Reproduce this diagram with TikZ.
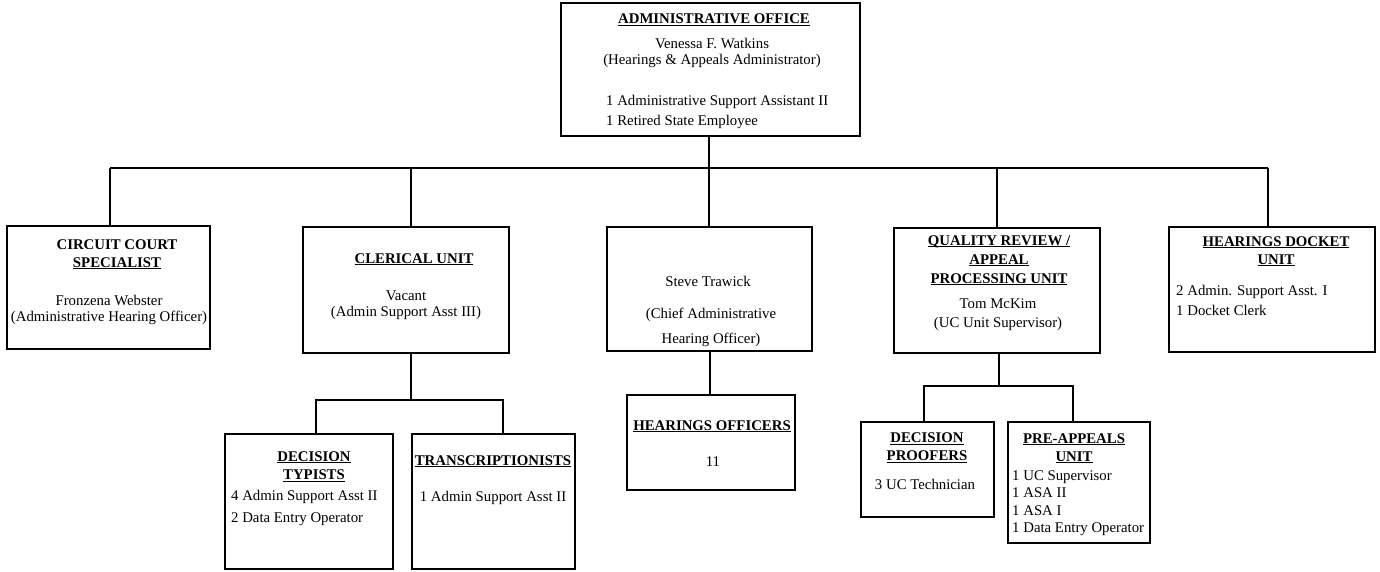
\documentclass[tikz,border=0pt]{standalone}
\usepackage{fontspec}
\setmainfont{Liberation Serif}
\newsavebox\ttlbox
% bold heading with a word-processor style underline
\newcommand\ttl[1]{\sbox\ttlbox{\bfseries #1}\rlap{\rule[-2.4pt]{\wd\ttlbox}{1.1pt}}\usebox\ttlbox}
% a column of text lines: name prefix, anchor, x, first baseline, line skip, lines
\newcommand\txtlines[6]{\foreach \tl [count=\ti from 1] in {#6}{%
  \node[txt,anchor=#2] (#1\ti) at ({#3},{#4+(\ti-1)*#5}) {\tl};}}
\begin{document}
\begin{tikzpicture}[x=1pt,y=-1pt,
  unitbox/.style={draw=black,line width=1.6pt,rectangle,inner sep=0pt},
  txt/.style={inner sep=0pt,font=\fontsize{14.8}{17}\selectfont},
  link/.style={draw=black,line width=1.6pt}]
\useasboundingbox[fill=white] (0,0) rectangle (1380,571);

% ---- boxes ----
\node[unitbox,minimum width=299pt,minimum height=133pt] (admin)    at (710.5,69.5) {};
\node[unitbox,minimum width=203pt,minimum height=123pt] (circuit)  at (108.5,287.5) {};
\node[unitbox,minimum width=206pt,minimum height=126pt] (clerical) at (406,290) {};
\node[unitbox,minimum width=205pt,minimum height=124pt] (chief)    at (709.5,289) {};
\node[unitbox,minimum width=206pt,minimum height=125pt] (quality)  at (997,290.5) {};
\node[unitbox,minimum width=206pt,minimum height=125pt] (docket)   at (1272,289.5) {};
\node[unitbox,minimum width=168pt,minimum height=135pt] (typists)  at (309,501.5) {};
\node[unitbox,minimum width=163pt,minimum height=135pt] (transcr)  at (493.5,501.5) {};
\node[unitbox,minimum width=168pt,minimum height=95pt]  (officers) at (711,442.5) {};
\node[unitbox,minimum width=133pt,minimum height=95pt]  (proofers) at (927.5,469.5) {};
\node[unitbox,minimum width=142pt,minimum height=121pt] (preapp)   at (1079,482.5) {};

% ---- texts ----
\txtlines{adminT}{base}{714}{23.5}{18}{{\ttl{ADMINISTRATIVE OFFICE}}}
\txtlines{adminN}{base}{712}{48.5}{16}{{Venessa F. Watkins},{(Hearings \& Appeals Administrator)}}
\txtlines{adminL}{base west}{606}{105}{20}{{1 Administrative Support Assistant II},{1 Retired State Employee}}

\txtlines{circT}{base}{117}{249}{18}{{\bfseries CIRCUIT COURT},{\ttl{SPECIALIST}}}
\txtlines{circN}{base}{109}{305.5}{16}{{Fronzena Webster},{(Administrative Hearing Officer)}}

\txtlines{clerT}{base}{414}{263}{18}{{\ttl{CLERICAL UNIT}}}
\txtlines{clerN}{base}{406}{300.5}{16}{{Vacant},{(Admin Support Asst III)}}

\txtlines{chiefN}{base}{708}{286}{18}{{Steve Trawick}}
\txtlines{chiefR}{base}{711}{318}{25}{{(Chief Administrative},{Hearing Officer)}}

\txtlines{qualT}{base}{999}{245}{19}{{\ttl{QUALITY REVIEW /}},{\ttl{APPEAL}},{\ttl{PROCESSING UNIT}}}
\txtlines{qualN}{base}{998}{308.5}{18.5}{{Tom McKim},{(UC Unit Supervisor)}}

\txtlines{dockT}{base}{1276}{246}{18}{{\ttl{HEARINGS DOCKET}},{\ttl{UNIT}}}
\txtlines{dockL}{base west}{1176}{295}{20}{{2 Admin. Support Asst. I},{1 Docket Clerk}}

\txtlines{typT}{base}{314}{461}{18.5}{{\ttl{DECISION}},{\ttl{TYPISTS}}}
\txtlines{typL}{base west}{231}{500.5}{22}{{4 Admin Support Asst II},{2 Data Entry Operator}}

\txtlines{trT}{base}{493}{465}{18}{{\ttl{TRANSCRIPTIONISTS}}}
\txtlines{trL}{base}{493}{501}{20}{{1 Admin Support Asst II}}

\txtlines{offT}{base}{712}{430}{18}{{\ttl{HEARINGS OFFICERS}}}
\txtlines{offN}{base}{713}{466.5}{18}{{11}}

\txtlines{proT}{base}{927}{442.5}{18}{{\ttl{DECISION}},{\ttl{PROOFERS}}}
\txtlines{proL}{base}{925}{489.5}{18}{{3 UC Technician}}

\txtlines{preT}{base}{1074}{443}{18}{{\ttl{PRE-APPEALS}},{\ttl{UNIT}}}
\txtlines{preL}{base west}{1012}{480}{17.6}{{1 UC Supervisor},{1 ASA II},{1 ASA I},{1 Data Entry Operator}}

% ---- connectors ----
\coordinate (busL)  at (110,168);
\coordinate (busC)  at (411,168);
\coordinate (trunk) at (709,168);
\coordinate (busQ)  at (997,168);
\coordinate (busR)  at (1268,168);
\draw[link] (busL) -- (busR);
\draw[link] (admin.south -| trunk) -- (trunk) -- (trunk |- chief.north);
\draw[link] (busL) -- (busL |- circuit.north);
\draw[link] (busC) -- (busC |- clerical.north);
\draw[link] (busQ) -- (busQ |- quality.north);
\draw[link] (busR) -- (busR |- docket.north);

\coordinate (clerJ) at (411,400);
\coordinate (clerL) at (316,400);
\coordinate (clerR) at (503,400);
\draw[link] (clerical.south -| clerJ) -- (clerJ);
\draw[link] (clerL |- typists.north) -- (clerL) -- (clerR) -- (clerR |- transcr.north);

\coordinate (chiefJ) at (710,360);
\draw[link] (chief.south -| chiefJ) -- (chiefJ |- officers.north);

\coordinate (qualJ) at (999,386);
\coordinate (qualL) at (924,386);
\coordinate (qualR) at (1073,386);
\draw[link] (quality.south -| qualJ) -- (qualJ);
\draw[link] (qualL |- proofers.north) -- (qualL) -- (qualR) -- (qualR |- preapp.north);
\end{tikzpicture}
\end{document}
